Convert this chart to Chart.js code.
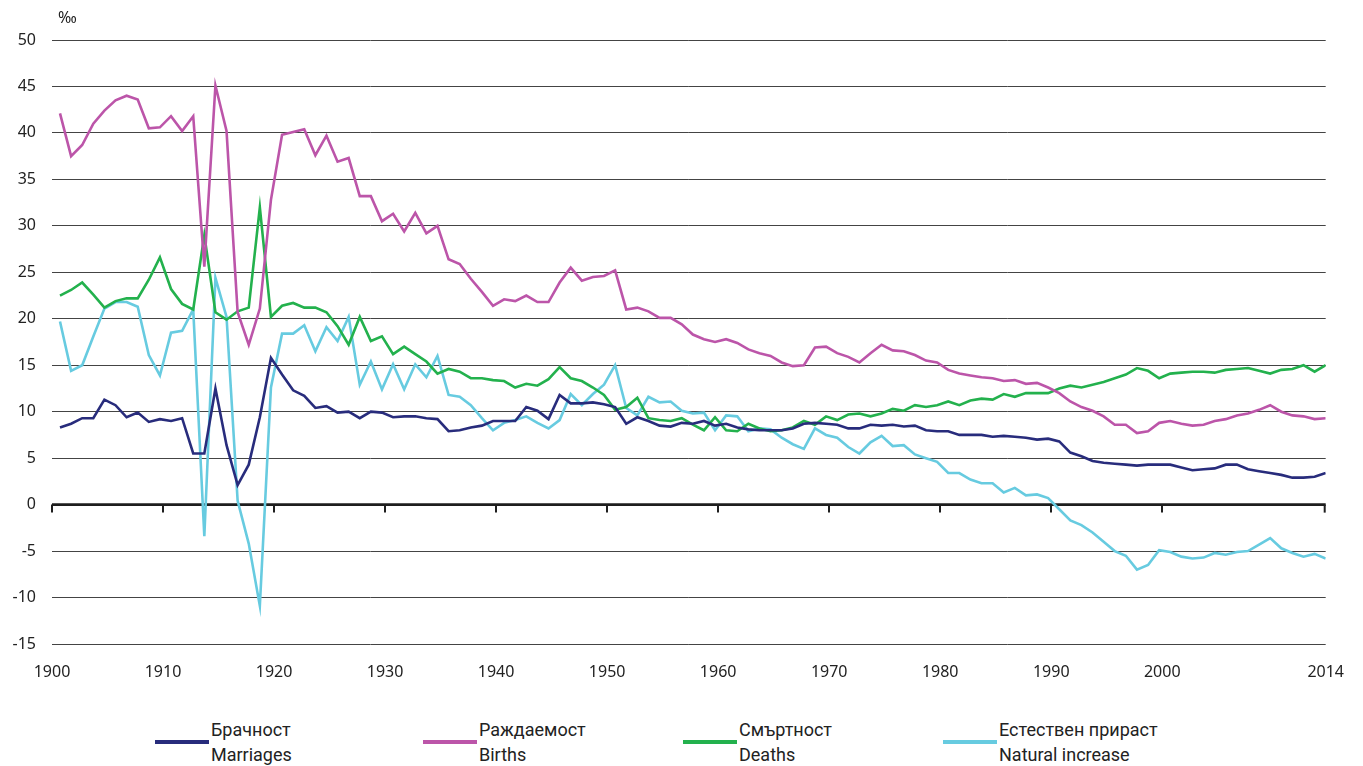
<!DOCTYPE html>
<html>
<head>
<meta charset="utf-8">
<script src="https://cdn.jsdelivr.net/npm/chart.js@4.4.1/dist/chart.umd.min.js"></script>
<style>
  html, body { margin: 0; padding: 0; background: #fff; }
  #wrap { position: relative; width: 1363px; height: 766px; overflow: hidden; }
  #chartBox { position: absolute; left: 0; top: 0; width: 1363px; height: 700px; }
  #unit { position: absolute; left: 58px; top: 6px; font: 16px "Noto Sans", sans-serif; color: #222; }
  .leg-item { position: absolute; top: 717px; }
  .leg-line { position: absolute; left: 0; top: 23px; width: 54px; height: 4px; }
  .leg-text { position: absolute; left: 56px; top: 0; white-space: nowrap;
              font: 18px "Liberation Sans Narrow", "Roboto", sans-serif; line-height: 25px; color: #222; }
</style>
</head>
<body>
<div id="wrap">
  <div id="chartBox"><canvas id="demoChart"></canvas></div>
  <div id="unit">‰</div>
  <div id="legend"></div>
</div>
<script>
(function () {
    'use strict';

    var years = [];
    for (var yr = 1900; yr <= 2014; yr++) years.push(yr);

    var tickYears = [1900, 1910, 1920, 1930, 1940, 1950, 1960, 1970, 1980, 1990, 2000, 2014];

    var seriesBg = ['Брачност', 'Раждаемост', 'Смъртност', 'Естествен прираст'];
    var seriesEn = ['Marriages', 'Births', 'Deaths', 'Natural increase'];

    var marriages = [
        8.3, 8.7, 9.3, 9.3, 11.3, 10.7, 9.4, 9.9, 8.9, 9.2,
        9.0, 9.3, 5.5, 5.5, 12.5, 6.4, 2.1, 4.3, 9.4, 15.8,
        14.0, 12.3, 11.7, 10.4, 10.6, 9.9, 10.0, 9.3, 10.0, 9.9,
        9.4, 9.5, 9.5, 9.3, 9.2, 7.9, 8.0, 8.3, 8.5, 9.0,
        9.0, 9.0, 10.5, 10.1, 9.2, 11.8, 10.9, 10.9, 11.0, 10.8,
        10.5, 8.7, 9.4, 9.0, 8.5, 8.4, 8.8, 8.7, 9.0, 8.5,
        8.7, 8.3, 8.1, 8.0, 8.0, 8.0, 8.2, 8.7, 8.8, 8.7,
        8.6, 8.2, 8.2, 8.6, 8.5, 8.6, 8.4, 8.5, 8.0, 7.9,
        7.9, 7.5, 7.5, 7.5, 7.3, 7.4, 7.3, 7.2, 7.0, 7.1,
        6.8, 5.6, 5.2, 4.7, 4.5, 4.4, 4.3, 4.2, 4.3, 4.3,
        4.3, 4.0, 3.7, 3.8, 3.9, 4.3, 4.3, 3.8, 3.6, 3.4,
        3.2, 2.9, 2.9, 3.0, 3.4
    ];

    var births = [
        42.1, 37.5, 38.7, 41.0, 42.4, 43.5, 44.0, 43.6, 40.5, 40.6,
        41.8, 40.2, 41.8, 25.6, 45.1, 40.2, 20.7, 17.2, 21.1, 32.8,
        39.8, 40.1, 40.4, 37.6, 39.7, 36.9, 37.3, 33.2, 33.2, 30.5,
        31.3, 29.4, 31.4, 29.2, 30.0, 26.4, 25.9, 24.3, 22.9, 21.4,
        22.1, 21.9, 22.5, 21.8, 21.8, 23.9, 25.5, 24.1, 24.5, 24.6,
        25.2, 21.0, 21.2, 20.8, 20.1, 20.1, 19.4, 18.3, 17.8, 17.5,
        17.8, 17.4, 16.7, 16.3, 16.0, 15.3, 14.9, 15.0, 16.9, 17.0,
        16.3, 15.9, 15.3, 16.3, 17.2, 16.6, 16.5, 16.1, 15.5, 15.3,
        14.5, 14.1, 13.9, 13.7, 13.6, 13.3, 13.4, 13.0, 13.1, 12.6,
        12.0, 11.1, 10.5, 10.1, 9.5, 8.6, 8.6, 7.7, 7.9, 8.8,
        9.0, 8.7, 8.5, 8.6, 9.0, 9.2, 9.6, 9.8, 10.2, 10.7,
        10.0, 9.6, 9.5, 9.2, 9.3
    ];

    var deaths = [
        22.5, 23.1, 23.9, 22.6, 21.2, 21.9, 22.2, 22.2, 24.2, 26.6,
        23.2, 21.6, 21.0, 29.0, 20.7, 19.9, 20.8, 21.2, 32.0, 20.2,
        21.4, 21.7, 21.2, 21.2, 20.7, 19.2, 17.2, 20.2, 17.6, 18.1,
        16.2, 17.0, 16.2, 15.4, 14.1, 14.6, 14.3, 13.6, 13.6, 13.4,
        13.3, 12.6, 13.0, 12.8, 13.5, 14.8, 13.6, 13.3, 12.6, 11.8,
        10.2, 10.5, 11.5, 9.3, 9.1, 9.0, 9.3, 8.6, 8.0, 9.4,
        8.0, 7.9, 8.7, 8.2, 7.9, 8.0, 8.3, 9.0, 8.6, 9.5,
        9.1, 9.7, 9.8, 9.5, 9.8, 10.3, 10.1, 10.7, 10.5, 10.7,
        11.1, 10.7, 11.2, 11.4, 11.3, 11.9, 11.6, 12.0, 12.0, 12.0,
        12.5, 12.8, 12.6, 12.9, 13.2, 13.6, 14.0, 14.7, 14.4, 13.6,
        14.1, 14.2, 14.3, 14.3, 14.2, 14.5, 14.6, 14.7, 14.4, 14.1,
        14.5, 14.6, 15.0, 14.3, 15.0
    ];

    var naturalIncrease = [
        19.7, 14.4, 15.0, 18.1, 21.1, 21.8, 21.8, 21.3, 16.1, 13.9,
        18.5, 18.7, 21.0, -3.4, 24.4, 20.2, 0.4, -4.2, -10.9, 12.6,
        18.4, 18.4, 19.3, 16.5, 19.1, 17.6, 20.2, 12.9, 15.4, 12.4,
        15.1, 12.4, 15.1, 13.7, 16.0, 11.8, 11.6, 10.7, 9.3, 8.0,
        8.8, 9.1, 9.5, 8.8, 8.2, 9.1, 11.9, 10.7, 11.9, 12.9,
        15.0, 10.4, 9.6, 11.6, 11.0, 11.1, 10.1, 9.8, 9.9, 8.0,
        9.6, 9.5, 7.9, 8.2, 8.1, 7.2, 6.5, 6.0, 8.2, 7.5,
        7.2, 6.2, 5.5, 6.7, 7.4, 6.3, 6.4, 5.4, 5.0, 4.6,
        3.4, 3.4, 2.7, 2.3, 2.3, 1.3, 1.8, 1.0, 1.1, 0.7,
        -0.5, -1.7, -2.2, -3.0, -4.0, -5.0, -5.5, -7.0, -6.5, -4.9,
        -5.1, -5.6, -5.8, -5.7, -5.2, -5.4, -5.1, -5.0, -4.3, -3.6,
        -4.7, -5.2, -5.6, -5.3, -5.8
    ];

    var colors = ['#282c7c', '#bc55a9', '#23b14d', '#67cbe0'];
    var tickShift = 0.72; // category boundary offset of the decade ticks

    function toPoints(values) {
        return values.map(function (v, i) { return { x: years[i], y: v }; });
    }

    var seriesData = [marriages, births, deaths, naturalIncrease];
    var datasets = seriesData.map(function (vals, i) {
        return {
            label: seriesEn[i],
            data: toPoints(vals),
            borderColor: colors[i],
            borderWidth: 2.6,
            pointRadius: 0,
            tension: 0,
            fill: false
        };
    });

    // zero line with tick marks pointing down
    var zeroAxis = {
        id: 'zeroAxis',
        beforeDatasetsDraw: function (chart) {
            var ctx = chart.ctx, xs = chart.scales.x, ys = chart.scales.y;
            var y0 = ys.getPixelForValue(0);
            ctx.save();
            ctx.strokeStyle = '#1e1e1e';
            ctx.lineWidth = 2.8;
            ctx.beginPath();
            ctx.moveTo(chart.chartArea.left, y0);
            ctx.lineTo(chart.chartArea.right, y0);
            ctx.stroke();
            ctx.lineWidth = 2;
            xs.ticks.forEach(function (t) {
                var px = Math.round(xs.getPixelForValue(t.value));
                if (px >= chart.chartArea.right) px = chart.chartArea.right - 1;
                ctx.beginPath();
                ctx.moveTo(px, y0);
                ctx.lineTo(px, y0 + 8);
                ctx.stroke();
            });
            ctx.restore();
        }
    };

    new Chart(document.getElementById('demoChart').getContext('2d'), {
        type: 'line',
        data: { datasets: datasets },
        plugins: [zeroAxis],
        options: {
            responsive: true,
            maintainAspectRatio: false,
            animation: false,
            layout: { padding: { top: 40, right: 34, left: 0, bottom: 0 } },
            plugins: { legend: { display: false }, tooltip: { enabled: false } },
            scales: {
                x: {
                    type: 'linear',
                    min: 1900 - tickShift,
                    max: 2014,
                    afterBuildTicks: function (scale) {
                        scale.ticks = tickYears.map(function (y, i) {
                            return { value: i === tickYears.length - 1 ? y : y - tickShift };
                        });
                    },
                    afterFit: function (scale) { scale.height = 56; },
                    grid: { display: true, drawOnChartArea: false, drawTicks: false },
                    border: { display: false },
                    ticks: {
                        autoSkip: false,
                        maxRotation: 0,
                        padding: 19,
                        color: '#222',
                        font: { family: 'Noto Sans', size: 16 },
                        callback: function (v, i) { return String(tickYears[i]); }
                    }
                },
                y: {
                    min: -15,
                    max: 50,
                    afterFit: function (scale) { scale.width = 52; },
                    grid: {
                        drawTicks: false,
                        color: function (c) { return c.tick && c.tick.value === 0 ? 'rgba(0,0,0,0)' : '#444'; },
                        lineWidth: 1
                    },
                    border: { display: false },
                    ticks: {
                        stepSize: 5,
                        padding: 16,
                        color: '#222',
                        font: { family: 'Noto Sans', size: 16 }
                    }
                }
            }
        }
    });

    // two-language legend under the chart
    var legendLeft = [155, 423, 683, 943];
    var legend = document.getElementById('legend');
    seriesBg.forEach(function (name, i) {
        var item = document.createElement('div');
        item.className = 'leg-item';
        item.style.left = legendLeft[i] + 'px';
        item.innerHTML = '<div class="leg-line" style="background:' + colors[i] + '"></div>' +
            '<div class="leg-text">' + name + '<br>' + seriesEn[i] + '</div>';
        legend.appendChild(item);
    });
}());
</script>
</body>
</html>
